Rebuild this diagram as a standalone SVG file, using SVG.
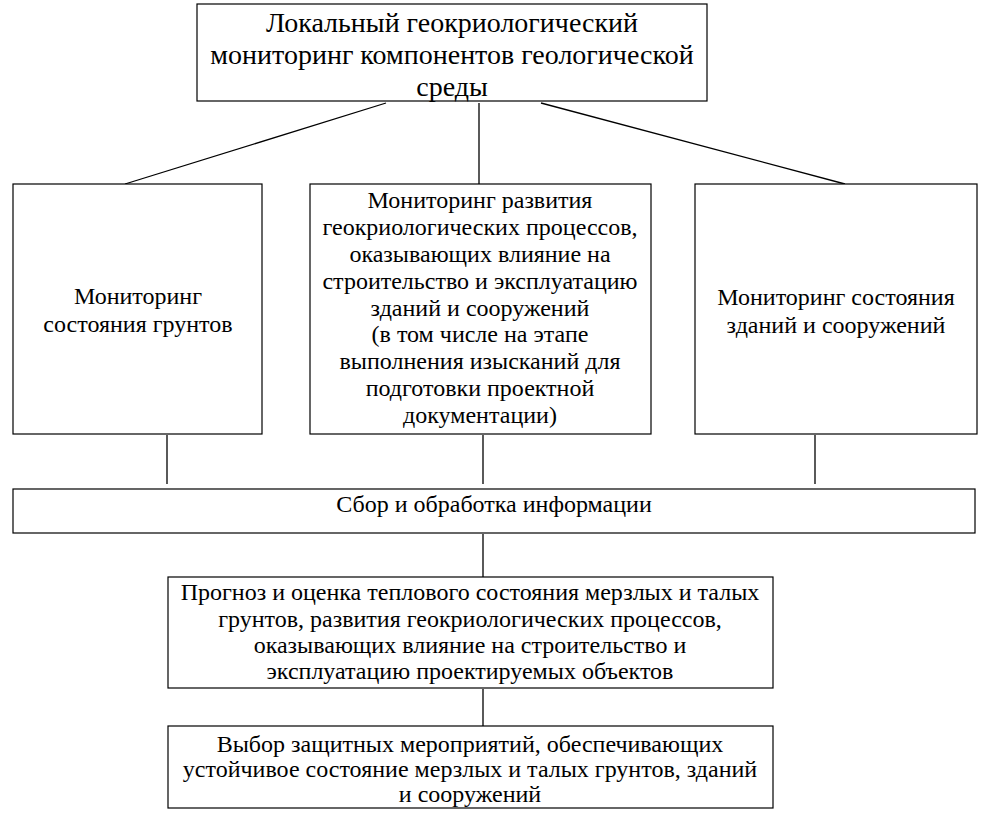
<svg xmlns="http://www.w3.org/2000/svg" width="987" height="823" viewBox="0 0 987 823">
<style>
.box{fill:#fff;stroke:#000;stroke-width:1.2}
.t{font-family:"Liberation Serif","Times New Roman","DejaVu Serif",serif;font-size:24px;fill:#000;text-anchor:middle}
.big{font-size:28px}
.c{stroke:#000;stroke-width:1.3;fill:none}
</style>
<rect width="987" height="823" fill="#fff"/>
<g id="connectors">
<line class="c" x1="386" y1="103" x2="125" y2="184"/>
<line class="c" x1="479" y1="103" x2="479" y2="184"/>
<line class="c" x1="541" y1="103" x2="845" y2="184"/>
<line class="c" x1="167" y1="435" x2="167" y2="484"/>
<line class="c" x1="483" y1="435" x2="483" y2="484"/>
<line class="c" x1="815" y1="435" x2="815" y2="484"/>
<line class="c" x1="483" y1="534" x2="483" y2="577"/>
<line class="c" x1="483" y1="689" x2="483" y2="726"/>
</g>
<g id="top">
<rect class="box" x="197" y="4" width="510" height="97"/>
<text class="t big" x="452"><tspan x="452" y="32">Локальный геокриологический</tspan><tspan x="452" y="64">мониторинг компонентов геологической</tspan><tspan x="452" y="96">среды</tspan></text>
</g>
<g id="soil">
<rect class="box" x="13" y="184" width="249" height="250"/>
<text class="t"><tspan x="138" y="304">Мониторинг</tspan><tspan x="138" y="332">состояния грунтов</tspan></text>
</g>
<g id="processes">
<rect class="box" x="310" y="184" width="341" height="250"/>
<text class="t"><tspan x="480" y="208">Мониторинг развития</tspan><tspan x="480" y="235">геокриологических процессов,</tspan><tspan x="480" y="262">оказывающих влияние на</tspan><tspan x="480" y="289">строительство и эксплуатацию</tspan><tspan x="480" y="316">зданий и сооружений</tspan><tspan x="480" y="342">(в том числе на этапе</tspan><tspan x="480" y="369">выполнения изысканий для</tspan><tspan x="480" y="396">подготовки проектной</tspan><tspan x="480" y="423">документации)</tspan></text>
</g>
<g id="buildings">
<rect class="box" x="695" y="184" width="282" height="250"/>
<text class="t"><tspan x="836" y="305">Мониторинг состояния</tspan><tspan x="836" y="333">зданий и сооружений</tspan></text>
</g>
<g id="collect">
<rect class="box" x="13" y="489" width="962" height="44"/>
<text class="t" x="494" y="512">Сбор и обработка информации</text>
</g>
<g id="forecast">
<rect class="box" x="168" y="577" width="605" height="111"/>
<text class="t"><tspan x="470" y="600">Прогноз и оценка теплового состояния мерзлых и талых</tspan><tspan x="470" y="627">грунтов, развития геокриологических процессов,</tspan><tspan x="470" y="653">оказывающих влияние на строительство и</tspan><tspan x="470" y="679">эксплуатацию проектируемых объектов</tspan></text>
</g>
<g id="measures">
<rect class="box" x="168" y="726" width="605" height="82"/>
<text class="t"><tspan x="470" y="752">Выбор защитных мероприятий, обеспечивающих</tspan><tspan x="470" y="777">устойчивое состояние мерзлых и талых грунтов, зданий</tspan><tspan x="470" y="802">и сооружений</tspan></text>
</g>
</svg>
